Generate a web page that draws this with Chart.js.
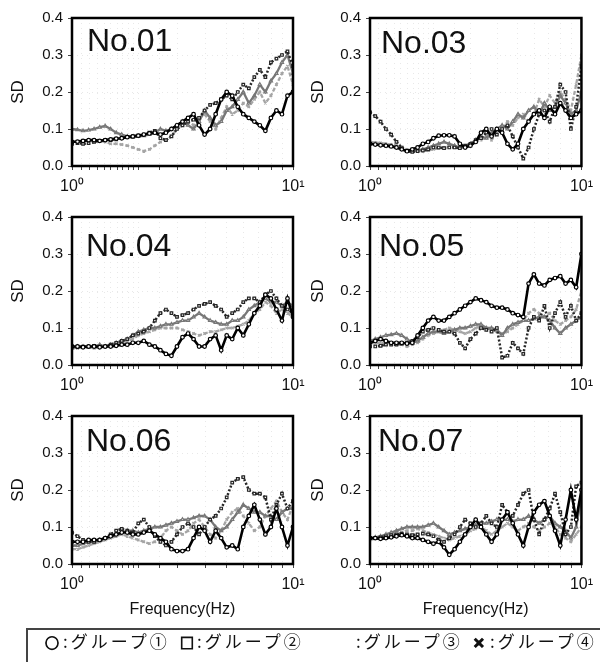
<!DOCTYPE html>
<html><head><meta charset="utf-8">
<script src="https://cdn.jsdelivr.net/npm/chart.js@4.4.0/dist/chart.umd.min.js"></script>
<style>
html,body{margin:0;padding:0;background:#fff;}
body{position:relative;width:600px;height:662px;overflow:hidden;font-family:"Liberation Sans",Arial,sans-serif;}
canvas{position:absolute;z-index:1;}
.plabel{position:absolute;z-index:3;font-size:32px;line-height:1;color:#111;font-family:"Liberation Sans",Arial,sans-serif;}
.leg{position:absolute;z-index:3;top:631px;font-family:"Noto Sans CJK JP",sans-serif;font-size:17px;line-height:20px;color:#111;white-space:nowrap;letter-spacing:3px;}
.mk{top:632px;font-size:14px;font-weight:bold;letter-spacing:0;-webkit-text-stroke:1px #111;}
#legbox{position:absolute;z-index:2;left:26px;top:628px;width:640px;height:60px;border-top:2px solid #444;border-left:2px solid #444;}
</style></head><body>
<div class="plabel" style="left:87px;top:24px">No.01</div>
<div class="plabel" style="left:381px;top:26px">No.03</div>
<div class="plabel" style="left:86px;top:229px">No.04</div>
<div class="plabel" style="left:379px;top:229px">No.05</div>
<div class="plabel" style="left:86px;top:424px">No.06</div>
<div class="plabel" style="left:378px;top:424px">No.07</div>
<div id="legbox"></div>
<div class="leg mk" style="left:45px">○</div><div class="leg" style="left:63px">:グループ①</div>
<div class="leg mk" style="left:180px">□</div><div class="leg" style="left:197px">:グループ②</div>
<div class="leg" style="left:356px">:グループ③</div>
<div class="leg mk" style="left:473px">✕</div><div class="leg" style="left:490px">:グループ④</div>
<script>
const FREQ = [1.000,1.059,1.122,1.189,1.259,1.334,1.413,1.496,1.585,1.679,
  1.778,1.884,1.995,2.113,2.239,2.371,2.512,2.661,2.818,2.985,
  3.162,3.350,3.548,3.758,3.981,4.217,4.467,4.732,5.012,5.309,
  5.623,5.957,6.310,6.683,7.079,7.499,7.943,8.414,8.913,9.441,10.000];

const GROUPS = ['グループ①','グループ②','グループ③','グループ④'];
const PANEL_NAMES = ['No.01','No.03','No.04','No.05','No.06','No.07'];
const X_TICK_VALUES = [1,10];
const X_TICK_TEXT = ['10⁰','10¹'];
const Y_TICK_TEXT = ['0.0','0.1','0.2','0.3','0.4'];

const NO01_G1 = [.065,.066,.068,.070,.070,.068,.070,.072,.074,.075,
  .078,.080,.082,.085,.088,.090,.085,.090,.100,.110,
  .120,.130,.140,.110,.085,.100,.140,.180,.200,.190,
  .160,.140,.130,.120,.110,.095,.130,.150,.140,.190,.200];
const NO01_G2 = [.060,.062,.060,.062,.065,.068,.070,.070,.072,.075,
  .078,.080,.082,.085,.090,.095,.075,.070,.080,.100,
  .110,.120,.125,.130,.150,.165,.170,.180,.190,.180,
  .200,.220,.210,.240,.260,.240,.280,.290,.300,.310,.270];
const NO01_G3 = [.100,.098,.095,.097,.100,.105,.108,.100,.090,.085,
  .080,.078,.080,.082,.085,.090,.100,.095,.100,.110,
  .120,.110,.100,.120,.150,.130,.110,.120,.150,.160,
  .180,.200,.170,.190,.220,.200,.230,.250,.280,.300,.250];
const NO01_G4 = [.065,.066,.068,.068,.070,.068,.065,.060,.060,.058,
  .055,.050,.045,.040,.045,.055,.065,.070,.080,.100,
  .110,.120,.110,.130,.140,.120,.100,.130,.160,.140,
  .150,.170,.160,.180,.200,.170,.190,.220,.250,.270,.220];

const NO03_G1 = [.060,.058,.056,.055,.053,.050,.045,.040,.045,.050,
  .060,.065,.075,.082,.083,.083,.080,.060,.050,.055,
  .065,.090,.100,.080,.100,.090,.060,.045,.060,.100,
  .120,.140,.150,.130,.160,.140,.170,.150,.130,.140,.150];
const NO03_G2 = [.145,.135,.120,.100,.085,.065,.050,.040,.038,.040,
  .042,.045,.050,.050,.048,.050,.050,.048,.055,.060,
  .070,.075,.090,.100,.085,.100,.110,.080,.050,.020,
  .050,.100,.140,.150,.120,.160,.220,.200,.100,.160,.270];
const NO03_G3 = [.060,.060,.058,.056,.055,.050,.045,.040,.040,.042,
  .045,.050,.055,.060,.065,.060,.055,.050,.052,.060,
  .070,.080,.075,.090,.100,.110,.100,.120,.140,.130,
  .150,.160,.140,.170,.150,.160,.190,.170,.140,.150,.200];
const NO03_G4 = [.065,.063,.062,.060,.058,.055,.050,.045,.042,.040,
  .040,.042,.045,.048,.050,.052,.050,.048,.050,.060,
  .065,.070,.080,.070,.090,.100,.120,.110,.130,.140,
  .120,.140,.180,.160,.190,.170,.200,.180,.150,.220,.300];

const NO04_G1 = [.050,.050,.048,.050,.050,.048,.050,.050,.052,.055,
  .055,.060,.060,.065,.055,.050,.040,.030,.025,.050,
  .075,.085,.070,.050,.050,.070,.080,.040,.080,.070,
  .100,.080,.110,.140,.160,.190,.180,.150,.120,.180,.130];
const NO04_G2 = [.050,.048,.050,.050,.052,.050,.050,.055,.060,.065,
  .070,.080,.085,.090,.100,.120,.140,.150,.140,.130,
  .135,.140,.150,.160,.165,.170,.160,.150,.130,.140,
  .150,.170,.180,.180,.170,.190,.200,.180,.160,.150,.140];
const NO04_G3 = [.045,.050,.050,.048,.050,.055,.050,.055,.060,.065,
  .070,.080,.090,.095,.100,.100,.105,.110,.110,.115,
  .120,.120,.130,.140,.130,.120,.115,.110,.110,.120,
  .120,.130,.150,.160,.170,.180,.170,.170,.160,.170,.160];
const NO04_G4 = [.050,.045,.050,.050,.045,.050,.050,.052,.055,.060,
  .065,.070,.080,.085,.090,.095,.100,.100,.100,.100,
  .095,.090,.085,.080,.085,.090,.090,.095,.100,.100,
  .105,.110,.120,.140,.150,.170,.160,.140,.150,.140,.130];

const NO05_G1 = [.060,.065,.070,.065,.060,.060,.060,.058,.060,.080,
  .100,.120,.130,.120,.120,.130,.140,.150,.160,.170,
  .180,.175,.170,.160,.155,.155,.150,.140,.135,.130,
  .220,.245,.220,.215,.230,.235,.240,.220,.230,.210,.300];
const NO05_G2 = [.050,.050,.052,.055,.055,.055,.058,.060,.065,.075,
  .090,.095,.100,.095,.090,.090,.085,.060,.045,.070,
  .085,.100,.095,.090,.100,.020,.025,.060,.045,.030,
  .100,.130,.120,.160,.100,.140,.170,.130,.160,.120,.140];
const NO05_G3 = [.065,.070,.075,.080,.082,.085,.080,.070,.060,.065,
  .075,.085,.090,.090,.085,.090,.095,.100,.100,.105,
  .110,.110,.100,.100,.095,.080,.100,.110,.115,.120,
  .120,.125,.130,.130,.120,.100,.085,.100,.110,.120,.130];
const NO05_G4 = [.060,.058,.060,.060,.058,.055,.055,.050,.055,.060,
  .070,.080,.085,.090,.095,.100,.095,.090,.085,.090,
  .100,.105,.100,.095,.090,.085,.090,.100,.110,.120,
  .140,.150,.140,.130,.140,.120,.110,.120,.130,.150,.200];

const NO06_G1 = [.060,.060,.060,.065,.065,.065,.070,.075,.080,.085,
  .085,.080,.080,.085,.090,.080,.070,.060,.040,.035,
  .035,.040,.070,.100,.090,.060,.090,.070,.045,.050,
  .040,.100,.130,.160,.120,.080,.100,.150,.100,.050,.100];
const NO06_G2 = [.085,.075,.065,.060,.060,.065,.070,.080,.090,.095,
  .090,.085,.110,.120,.100,.075,.060,.050,.060,.080,
  .100,.110,.100,.080,.100,.120,.130,.150,.180,.220,
  .230,.235,.200,.190,.190,.180,.120,.160,.190,.150,.170];
const NO06_G3 = [.050,.050,.055,.060,.060,.065,.070,.075,.080,.085,
  .090,.090,.085,.090,.095,.100,.100,.105,.110,.115,
  .120,.120,.125,.130,.130,.120,.100,.090,.100,.120,
  .140,.160,.150,.140,.140,.130,.130,.120,.140,.150,.150];
const NO06_G4 = [.040,.040,.045,.050,.055,.060,.065,.070,.075,.080,
  .075,.070,.065,.060,.055,.060,.070,.090,.100,.090,
  .080,.090,.110,.120,.100,.080,.070,.090,.120,.140,
  .150,.130,.110,.090,.100,.130,.150,.170,.140,.120,.160];

const NO07_G1 = [.070,.070,.068,.070,.072,.075,.078,.075,.070,.070,
  .065,.060,.055,.060,.045,.025,.040,.060,.080,.100,
  .120,.100,.080,.060,.080,.120,.140,.110,.080,.050,
  .100,.140,.160,.170,.130,.090,.050,.120,.200,.120,.200];
const NO07_G2 = [.070,.070,.072,.075,.078,.080,.082,.080,.078,.080,
  .082,.080,.075,.065,.060,.070,.080,.100,.120,.110,
  .100,.110,.130,.110,.100,.160,.140,.130,.160,.190,
  .200,.120,.080,.120,.150,.190,.140,.080,.100,.210,.220];
const NO07_G3 = [.070,.072,.075,.080,.085,.090,.095,.100,.100,.100,
  .100,.105,.110,.100,.090,.080,.085,.090,.095,.100,
  .105,.110,.110,.115,.120,.120,.120,.115,.120,.120,
  .130,.120,.110,.120,.130,.110,.100,.090,.070,.100,.180];
const NO07_G4 = [.065,.068,.070,.072,.075,.080,.085,.090,.090,.095,
  .090,.085,.080,.075,.070,.065,.070,.075,.080,.090,
  .095,.100,.090,.080,.090,.100,.110,.100,.090,.100,
  .110,.100,.090,.100,.110,.100,.080,.070,.060,.080,.100];

const PANEL_SERIES = [
  [NO01_G1,NO01_G2,NO01_G3,NO01_G4],
  [NO03_G1,NO03_G2,NO03_G3,NO03_G4],
  [NO04_G1,NO04_G2,NO04_G3,NO04_G4],
  [NO05_G1,NO05_G2,NO05_G3,NO05_G4],
  [NO06_G1,NO06_G2,NO06_G3,NO06_G4],
  [NO07_G1,NO07_G2,NO07_G3,NO07_G4]
];

const FONT = '"Liberation Sans", Arial, sans-serif';
const STY = [
  {c:'#000000', w:2.6, d:[],    p:'circle'},
  {c:'#262626', w:2.5, d:[2,2], p:'rect'},
  {c:'#777777', w:2.3, d:[],    p:'triangle'},
  {c:'#a5a5a5', w:2.3, d:[4,2], p:'crossRot'}
];
const ROW_TOP = [0,199,398];

const framePlugin = {
  id:'frame',
  afterDatasetsDraw(chart){
    const {ctx, chartArea:a} = chart;
    ctx.save();
    ctx.strokeStyle = '#000';
    ctx.lineWidth = 2.5;
    ctx.strokeRect(a.left, a.top, a.right - a.left, a.bottom - a.top);
    ctx.restore();
  }
};

function makePanel(idx){
  const col = idx % 2, row = Math.floor(idx / 2);
  const left = col === 0 ? 0 : 300, width = col === 0 ? 330 : 300;
  const yw = col === 0 ? 72 : 70, pr = col === 0 ? 37 : 13;
  const xh = row === 2 ? 60 : 40;
  const height = 18 + 148 + xh;
  const cv = document.createElement('canvas');
  cv.width = width; cv.height = height;
  cv.style.left = left + 'px'; cv.style.top = ROW_TOP[row] + 'px';
  cv.style.width = width + 'px'; cv.style.height = height + 'px';
  document.body.appendChild(cv);
  const series = PANEL_SERIES[idx];
  new Chart(cv, {
    type:'line',
    data:{
      datasets: series.map((vals, g) => ({
        label: GROUPS[g],
        data: FREQ.map((f, k) => ({x:f, y:vals[k]})),
        borderColor: STY[g].c, borderWidth: STY[g].w, borderDash: STY[g].d,
        pointStyle: STY[g].p, pointRadius: 1.8, pointBorderWidth: 1.2,
        pointBorderColor: STY[g].c, pointBackgroundColor: '#fff',
        tension: 0, fill: false
      }))
    },
    options:{
      responsive:false, maintainAspectRatio:false, animation:false, devicePixelRatio:1,
      layout:{autoPadding:false, padding:{top:18, right:pr, left:0, bottom:0}},
      plugins:{legend:{display:false}, tooltip:{enabled:false}},
      scales:{
        x:{
          type:'logarithmic', min:1, max:10,
          afterFit(s){ s.height = xh; },
          ticks:{autoSkip:false, maxRotation:0, minRotation:0, padding:7, color:'#111',
            font:{size:16, family:FONT},
            callback:(v) => { const i = X_TICK_VALUES.indexOf(v); return i >= 0 ? X_TICK_TEXT[i] : ''; }},
          grid:{color:'rgba(0,0,0,0.09)', lineWidth:1, tickLength:4, tickColor:'#444', drawTicks:true},
          border:{display:false, dash:[1,4]},
          title:{display: row === 2, text:'Frequency(Hz)', color:'#111',
            font:{size:16, family:FONT}, padding:{top:0, bottom:5}}
        },
        y:{
          min:0, max:0.4,
          afterFit(s){ s.width = yw; },
          ticks:{stepSize:0.1, padding:5, color:'#111', font:{size:15, family:FONT},
            callback:(v) => Y_TICK_TEXT[Math.round(v * 10)]},
          grid:{color:'rgba(0,0,0,0.09)', lineWidth:1, tickLength:4, tickColor:'#444', drawTicks:true},
          border:{display:false, dash:[1,4]},
          title:{display:true, text:'SD', color:'#111', font:{size:17, family:FONT}, padding:{top:8, bottom:0}}
        }
      }
    },
    plugins:[framePlugin]
  });
}
for (let i = 0; i < PANEL_NAMES.length; i++) makePanel(i);
</script>
</body></html>
